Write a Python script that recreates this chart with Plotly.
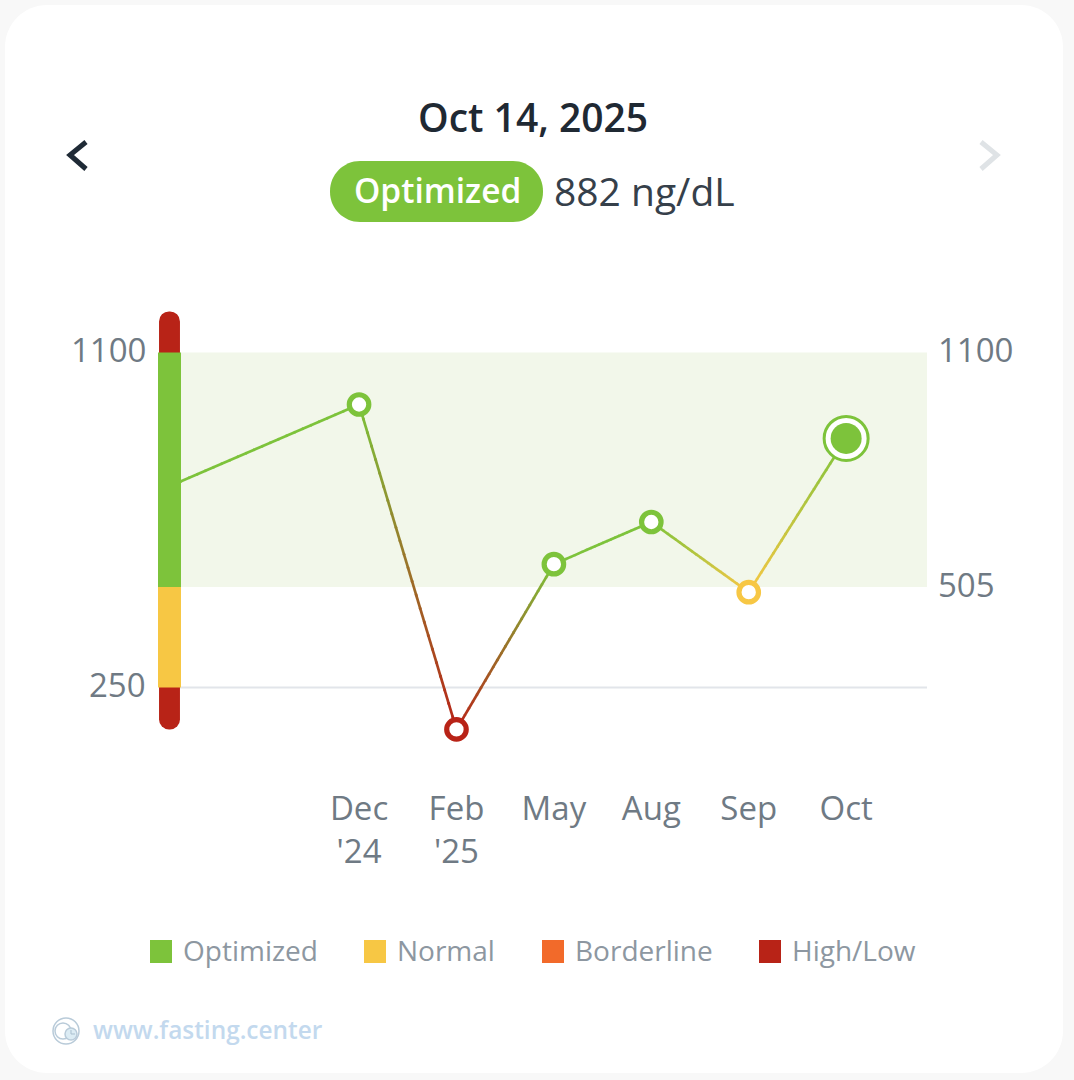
import numpy as np
import plotly.graph_objects as go

W, H = 1074, 1080

# readings, the first one sits off the left edge of the chart
positions = [-2, 0, 1, 2, 3, 4, 5]
values = [755, 968, 144, 563, 670, 492, 882]
statuses = ["Optimized", "Optimized", "High/Low", "Optimized", "Optimized", "Normal", "Optimized"]

tick_positions = [0, 1, 2, 3, 4, 5]
tick_labels = ["Dec<br>'24", "Feb<br>'25", "May", "Aug", "Sep", "Oct"]

legend_names = ["Optimized", "Normal", "Borderline", "High/Low"]
legend_hex = ["#7dc33b", "#f7c744", "#f26a2a", "#b82317"]
colors = dict(zip(legend_names, legend_hex))

low_limit = 250
normal_limit = 505
high_limit = 1100
scale_over = 104
scale_under = 106

left_labels = [low_limit, high_limit]
right_labels = [normal_limit, high_limit]

FONT = "Open Sans"
AXIS_GREY = "#6f7a84"


def fx(px):
    return px / W


def fy(py):
    return 1 - py / H


def rounded_path(x0, y0, x1, y1, r):
    k = r * 0.45
    pts = [
        f"M {fx(x0 + r)} {fy(y0)}",
        f"L {fx(x1 - r)} {fy(y0)}",
        f"C {fx(x1 - k)} {fy(y0)} {fx(x1)} {fy(y0 + k)} {fx(x1)} {fy(y0 + r)}",
        f"L {fx(x1)} {fy(y1 - r)}",
        f"C {fx(x1)} {fy(y1 - k)} {fx(x1 - k)} {fy(y1)} {fx(x1 - r)} {fy(y1)}",
        f"L {fx(x0 + r)} {fy(y1)}",
        f"C {fx(x0 + k)} {fy(y1)} {fx(x0)} {fy(y1 - k)} {fx(x0)} {fy(y1 - r)}",
        f"L {fx(x0)} {fy(y0 + r)}",
        f"C {fx(x0)} {fy(y0 + k)} {fx(x0 + k)} {fy(y0)} {fx(x0 + r)} {fy(y0)}",
        "Z",
    ]
    return " ".join(pts)


def poly_path(points):
    return "M " + " L ".join(f"{fx(x)} {fy(y)}" for x, y in points)


def text(label, x, y, size, color, anchor="left", weight=400):
    return dict(
        text=label, x=fx(x), y=fy(y), xref="paper", yref="paper", showarrow=False,
        xanchor=anchor, yanchor="middle", font=dict(family=FONT, size=size, color=color, weight=weight),
    )


def value_label(value, x, anchor):
    # sits a touch above the level it names
    return dict(
        text=str(value), x=fx(x), y=value, xref="paper", yref="y", yshift=3, showarrow=False,
        xanchor=anchor, yanchor="middle", font=dict(family=FONT, size=33, color=AXIS_GREY),
    )


def circle(cx, cy, r, line=None, fill=None, width=1.5):
    return dict(
        type="circle", xref="paper", yref="paper", layer="above",
        x0=fx(cx - r), x1=fx(cx + r), y0=fy(cy + r), y1=fy(cy - r),
        fillcolor=fill or "rgba(0,0,0,0)",
        line=dict(color=line or "rgba(0,0,0,0)", width=width),
    )


def mix(c1, c2, t):
    a = [int(c1[i:i + 2], 16) for i in (1, 3, 5)]
    b = [int(c2[i:i + 2], 16) for i in (1, 3, 5)]
    return "rgb({},{},{})".format(*[round(p + (q - p) * t) for p, q in zip(a, b)])


fig = go.Figure()

# line between readings, split up so the colour can fade from one status to the next
steps = 24
for i in range(len(values) - 1):
    c1, c2 = colors[statuses[i]], colors[statuses[i + 1]]
    for s in range(steps):
        t0, t1 = s / steps, min((s + 1.15) / steps, 1)
        fig.add_trace(go.Scatter(
            x=[np.interp(t0, [0, 1], positions[i:i + 2]), np.interp(t1, [0, 1], positions[i:i + 2])],
            y=[np.interp(t0, [0, 1], values[i:i + 2]), np.interp(t1, [0, 1], values[i:i + 2])],
            mode="lines", line=dict(color=mix(c1, c2, (s + 0.5) / steps), width=2.7),
            hoverinfo="skip",
        ))

# ring markers, the latest reading gets the big one
fig.add_trace(go.Scatter(
    x=positions[1:-1], y=values[1:-1], mode="markers", hoverinfo="skip",
    marker=dict(size=19.5, color="white", line=dict(width=5.2, color=[colors[s] for s in statuses[1:-1]])),
))
fig.add_trace(go.Scatter(
    x=positions[-1:], y=values[-1:], mode="markers", hoverinfo="skip",
    marker=dict(size=44, color="white", line=dict(width=3, color=colors[statuses[-1]])),
))
fig.add_trace(go.Scatter(
    x=positions[-1:], y=values[-1:], mode="markers", hoverinfo="skip",
    marker=dict(size=31, color=colors[statuses[-1]]),
))

# coloured scale on the left, the red caps run under the middle parts so only their far ends show
cap_overlap = 40
scale_parts = [
    (high_limit - cap_overlap, scale_over + cap_overlap, colors["High/Low"], 10, 0.91),
    (low_limit + cap_overlap, -scale_under - cap_overlap, colors["High/Low"], 10, 0.91),
    (normal_limit, high_limit - normal_limit, colors["Optimized"], 0, 1),
    (low_limit, normal_limit - low_limit, colors["Normal"], 0, 1),
]
for base, size, col, radius, bar_w in scale_parts:
    fig.add_trace(go.Bar(
        x=[0], y=[size], base=base, width=bar_w, xaxis="x2", hoverinfo="skip",
        marker=dict(color=col, cornerradius=radius, line=dict(width=0)),
    ))

shapes = [
    dict(type="path", xref="paper", yref="paper", layer="below", path=rounded_path(5, 5, 1063, 1073, 42),
         fillcolor="white", line=dict(width=0)),
    dict(type="rect", xref="paper", yref="y", layer="below", x0=fx(180), x1=fx(927),
         y0=normal_limit, y1=high_limit, fillcolor="#f2f7ea", line=dict(width=0)),
    dict(type="line", xref="paper", yref="y", layer="below", x0=fx(180), x1=fx(927),
         y0=low_limit, y1=low_limit, line=dict(color="#e2e5ea", width=2)),
    dict(type="path", xref="paper", yref="paper", layer="below", path=rounded_path(330, 161, 543, 222, 30),
         fillcolor=colors["Optimized"], line=dict(width=0)),
    dict(type="path", xref="paper", yref="paper", path=poly_path([(86, 142), (70, 155), (86, 169)]),
         line=dict(color="#1f2a36", width=5)),
    dict(type="path", xref="paper", yref="paper", path=poly_path([(981, 142), (997, 155), (981, 169)]),
         line=dict(color="#dfe3e6", width=5)),
]

annotations = [
    text("Oct 14, 2025", 533, 116.5, 39, "#1f2933", "center", 600),
    text("Optimized", 437, 190, 33.5, "white", "center", 600),
    text("882 ng/dL", 552, 190.5, 39, "#36404a"),
]
annotations += [value_label(v, 148, "right") for v in left_labels]
annotations += [value_label(v, 936, "left") for v in right_labels]

# legend
legend_left = [150, 364, 542, 759]
for name, col, left in zip(legend_names, legend_hex, legend_left):
    shapes.append(dict(type="rect", xref="paper", yref="paper", x0=fx(left), x1=fx(left + 22),
                       y0=fy(963), y1=fy(940), fillcolor=col, line=dict(width=0)))
    annotations.append(text(name, left + 31, 950, 28, "#8d97a1"))

# site mark
shapes += [
    circle(66, 1031, 13, line="#b9cbd9"),
    circle(63, 1031, 8, line="#b9cbd9"),
    circle(71, 1034, 6, line="#b9cbd9", fill="#dcecf4"),
    dict(type="path", xref="paper", yref="paper", path=poly_path([(71, 1030), (71, 1034), (75, 1034)]),
         line=dict(color="#a9bfcf", width=1)),
]
annotations.append(text("www.fasting.center", 91, 1029, 24.4, "#c3d9ee", "left", 600))

fig.update_layout(
    width=W, height=H, autosize=False, showlegend=False, barmode="overlay",
    margin=dict(l=0, r=0, t=0, b=0),
    paper_bgcolor="#f8f8f8", plot_bgcolor="rgba(0,0,0,0)",
    shapes=shapes, annotations=annotations,
    xaxis=dict(
        domain=[fx(180), fx(927)], range=[-1.838, 5.83], showgrid=False, zeroline=False, showline=False,
        tickmode="array", tickvals=tick_positions, ticktext=tick_labels, ticks="",
        ticklabelstandoff=16, tickfont=dict(family=FONT, size=33, color=AXIS_GREY), anchor="y",
    ),
    xaxis2=dict(domain=[fx(158), fx(181)], range=[-0.5, 0.5], visible=False, anchor="y"),
    yaxis=dict(
        domain=[fy(770), fy(300)], range=[41, 1233], showgrid=False, zeroline=False, showline=False,
        showticklabels=False, ticks="", anchor="x",
    ),
)

fig.write_html("out.html", config=dict(displayModeBar=False),
               post_script="document.body.style.margin='0';")
